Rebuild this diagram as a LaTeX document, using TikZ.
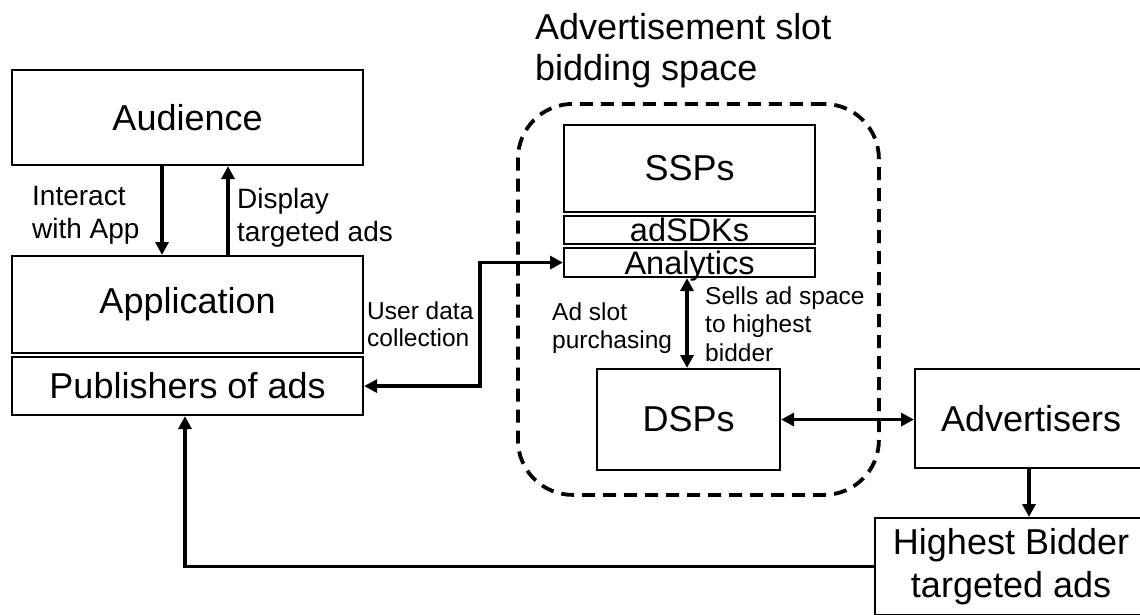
\documentclass[tikz,border=0pt]{standalone}
\usepackage{fontspec}
\setmainfont{Liberation Sans}
\usetikzlibrary{arrows.meta}
\begin{document}
\begin{tikzpicture}[x=1pt,y=-1pt,
  box/.style={draw, line width=2.1pt, inner sep=0pt, anchor=north west,
    font=\fontsize{36}{43}\selectfont, align=center},
  thinbox/.style={box, font=\fontsize{32.5}{36}\selectfont, text height=23pt, text depth=0pt},
  arr/.style={line width=3.8pt, -{Triangle[length=13pt,width=13pt]}},
  darr/.style={line width=3.8pt, {Triangle[length=13pt,width=13pt]}-{Triangle[length=13pt,width=13pt]}},
  lbl/.style={anchor=west, align=left, inner sep=0pt},
  dashbox/.style={draw, line width=3.8pt, dash pattern=on 13pt off 8pt, rounded corners=55pt,
    inner sep=0pt, anchor=north west}]
\useasboundingbox (0,0) rectangle (1140,614);

% container
\node[dashbox, minimum width=361pt, minimum height=391pt] (space) at (516,102) {};
\node[lbl, font=\fontsize{36}{41}\selectfont] (title) at (535,51) {Advertisement slot\\bidding space};

% boxes
\node[box, minimum width=351pt, minimum height=95pt] (aud) at (11,69) {Audience};
\node[box, minimum width=351pt, minimum height=97pt] (app) at (11,255) {Application};
\node[box, minimum width=351pt, minimum height=58pt] (pub) at (11,356) {Publishers of ads};
\node[box, minimum width=251pt, minimum height=87pt] (ssp) at (563,124) {SSPs};
\node[thinbox, minimum width=251pt, minimum height=28pt] (sdk) at (563,215) {adSDKs};
\node[thinbox, minimum width=251pt, minimum height=29pt] (ana) at (563,247) {Analytics};
\node[box, minimum width=183pt, minimum height=101pt] (dsp) at (596,368) {DSPs};
\node[box, minimum width=232pt, minimum height=99pt] (adv) at (914,368) {Advertisers};
\node[box, minimum width=272pt, minimum height=97pt] (hb) at (874,517) {Highest Bidder\\targeted ads};

% labels
\node[lbl, font=\fontsize{28}{33}\selectfont] (l1) at (32,215) {Interact\\with App};
\node[lbl, font=\fontsize{28}{33}\selectfont] (l2) at (237,218) {Display\\targeted ads};
\node[lbl, font=\fontsize{24.5}{27.5}\selectfont] (l3) at (367,324) {User data\\collection};
\node[lbl, font=\fontsize{24.5}{28.5}\selectfont] (l4) at (552,328) {Ad slot\\purchasing};
\node[lbl, font=\fontsize{24.5}{28.5}\selectfont] (l5) at (705,324) {Sells ad space\\to highest\\bidder};

% helper coordinates
\coordinate (xa) at (162,0);
\coordinate (xb) at (228,0);
\coordinate (xu) at (480,0);
\coordinate (xp) at (185,0);
\coordinate (xs) at (687,0);
\coordinate (xh) at (1029,0);

% connectors
\draw[arr] (aud.south -| xa) -- (app.north -| xa);
\draw[arr] (app.north -| xb) -- (aud.south -| xb);
\draw[darr] (pub.east) -- (pub.east -| xu) -- (ana.west -| xu) -- (ana.west);
\draw[darr] (ana.south -| xs) -- (dsp.north -| xs);
\draw[darr] (dsp.east) -- (dsp.east -| adv.west);
\draw[arr] (adv.south -| xh) -- (hb.north -| xh);
\draw[arr] (hb.west) -- (hb.west -| xp) -- (pub.south -| xp);
\end{tikzpicture}
\end{document}
